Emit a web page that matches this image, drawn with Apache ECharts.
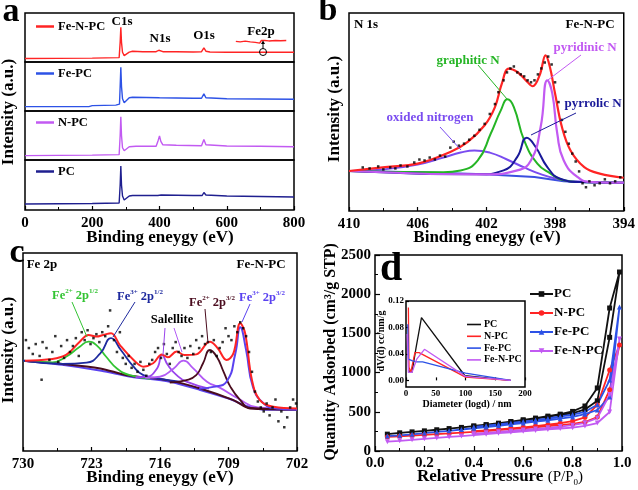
<!DOCTYPE html>
<html><head><meta charset="utf-8">
<script src="https://cdn.jsdelivr.net/npm/echarts@6/dist/echarts.min.js"></script>
<style>html,body{margin:0;padding:0;background:#fff}#c{width:638px;height:490px}</style>
</head><body><div id="c"></div>
<script>
// ---------- Panel a: XPS survey (x: eV, y: % of sub-panel height) ----------
const surveyFeNPC = [[0,7],[100,7.5],[200,8],[280,9],[283,40],[285,71],[287,40],[290,20],[295,13],[300,13],[310,20],[320,22],[350,21],[390,21],[398,24],[402,23],[410,21],[450,21],[500,20.5],[525,21],[532,29],[538,22],[550,20.5],[600,20],[700,20],[800,20]];
const surveyFe2pTrace = [[627,42],[640,41],[655,42.5],[670,41],[685,40],[698,38.5],[703,44],[708,47.8],[713,44],[725,43],[745,44],[760,43.5],[777,44]];
const surveyFePC = [[0,9],[190,9],[200,11],[270,12],[281,14],[283,50],[285,89],[287,50],[290,25],[295,17],[300,18],[310,27],[320,28],[400,27],[500,26],[525,26],[532,35],[538,27],[600,25],[700,24.5],[800,24]];
const surveyNPC = [[0,9],[200,10],[280,11],[283,50],[285,88],[287,50],[290,25],[295,19],[300,20],[310,27],[330,28],[390,28],[396,40],[400,49],[404,38],[410,31],[450,30],[525,29],[532,42],[538,31],[600,28.5],[700,28],[800,27]];
const surveyPC = [[0,12],[200,13],[280,14],[283,50],[285,88],[287,50],[290,28],[295,20],[300,21],[310,28],[320,29],[395,29],[400,32],[405,30],[500,29],[527,29],[532,35],[538,30],[600,28],[700,27],[800,26]];
const surveyNames = ['Fe-N-PC','Fe-PC','N-PC','PC'];

// ---------- Panel b: N 1s ----------
const n1sEnvelope = [[410,20.2],[407.9,22.2],[406,23.9],[404.1,29.8],[403.1,34.8],[402.1,43.3],[401.5,52.5],[401.1,64.3],[400.7,71.9],[400.2,70.2],[399.7,66],[399.3,63],[398.9,68.5],[398.55,78.6],[398.3,72.7],[398.0,59.3],[397.6,42.4],[397.1,30.6],[396.3,22.2],[395.4,18.9],[394,16.8]];
const n1sBackground = [[410,20.2],[406,19.6],[402.1,18.5],[399.2,17.2],[397.5,15],[396,14.4],[394,14.1]];
const n1sOxided = [[410,20.2],[408,21],[406,23.5],[404.5,27],[403.5,29.5],[402.7,30.6],[401.8,29.5],[400.8,26],[399.8,22],[398.8,18.5],[397.8,16],[397,15],[394,14.3]];
const n1sGraphitic = [[410,20.2],[404.5,19.6],[403.5,20.5],[402.5,25.6],[401.75,39],[401.16,50.8],[400.77,56.4],[400.4,52.5],[399.8,35.7],[399.03,23.9],[398.26,18.9],[397.5,15.5],[396.5,14.6],[394,14.3]];
const n1sPyrrolic = [[410,20.2],[402.5,18.5],[401,20.5],[400.2,27.3],[399.65,37],[399.13,32.3],[398.45,22.2],[397.7,16.3],[396.5,14.6],[394,14.3]];
const n1sPyridinic = [[410,20.2],[402,18.5],[400.2,20.5],[399.4,25.6],[398.84,42.4],[398.45,66],[398.16,59.3],[397.87,39],[397.5,25.6],[396.7,17.2],[395.9,14.6],[394,14.3]];
const n1sRaw = [[409.2,22],[408.8,21.5],[408.3,22.5],[408.0,21],[407.6,22],[407.3,21.5],[407.0,23],[406.6,22.5],[406.2,24.5],[405.9,26],[405.6,25.5],[405.3,27],[405.0,26],[404.7,28],[404.4,27.5],[404.1,32],[403.9,35],[403.6,33],[403.3,34],[403.0,36],[402.7,38],[402.4,41],[402.1,44],[401.8,49],[401.5,54],[401.3,60],[401.0,66],[400.8,70],[400.6,72],[400.4,73],[400.2,70],[400.0,69],[399.8,68],[399.6,66],[399.4,65],[399.2,66],[399.0,69],[398.8,72],[398.6,75],[398.4,78],[398.2,74],[398.0,65],[397.8,55],[397.6,46],[397.4,40],[397.2,34],[397.0,29],[396.8,25],[396.6,20],[396.4,14],[396.2,12],[396.0,15],[395.7,13],[395.4,14],[395.1,16],[394.8,14],[394.5,15],[394.2,17]];

// ---------- Panel c: Fe 2p ----------
const fe2pEnvelope = [[729.8,45.6],[727.3,46.3],[725.6,48.5],[724.2,55.2],[723.3,58.6],[722.5,57.8],[721.8,58.6],[721.0,59.5],[720.1,53.5],[718.7,46],[717.7,42.6],[716.7,44.3],[715.8,48.8],[715.2,47.3],[714.3,50.2],[713.5,48.5],[712.3,48.8],[710.9,55.2],[710.1,51.9],[709.2,46],[708.5,49.3],[707.8,64.5],[707.3,59.5],[706.6,35.8],[705.8,25.7],[704.4,22.3],[702,21.5]];
const fe2pBackground = [[730,45.6],[726,44],[722.1,41.7],[719.4,38.3],[715.3,35.8],[711.9,31.6],[708.5,25.7],[706.8,21.5],[702,21]];
const fe2pBackground2 = [[730,45.6],[726,43.5],[722,40.5],[719,37.5],[715,35],[712,31],[709,26.5],[707,22.5],[705,20.8],[702,20.8]];
const fe2pFe2p12 = [[730,45.6],[727,44.8],[725.6,47.6],[724.2,52.7],[723.3,55.2],[722.5,53.5],[721.5,47.6],[720.4,41.7],[719.1,38.3],[717,36.5]];
const fe2pFe3p12 = [[730,45.6],[726,44],[723.5,44.6],[722.1,49.3],[721,57],[720,51],[718.7,42.6],[717.7,38.3],[716.3,36.7],[714,35]];
const fe2pSat1 = [[718.5,37.3],[717.4,37.5],[716.3,41.7],[715.8,48.5],[715.2,43.4],[714.3,38.3],[713.3,35],[711,31.5]];
const fe2pSat2 = [[717.5,37],[716,37.5],[714.6,41.7],[713.6,45.6],[712.6,41.7],[711.2,35],[709.9,32],[708,26.5],[706,22],[702,21]];
const fe2pFe2p32 = [[715,34.5],[713.3,35.8],[712.3,38.3],[711.6,44.3],[710.9,51],[710.2,47.6],[709.5,40],[708.8,32.4],[707.8,25.7],[706.8,21.8],[702,21]];
const fe2pFe3p32 = [[712,31.5],[710.55,32.4],[709.2,35],[708.3,49.3],[707.8,62.5],[707.2,51],[706.5,32.4],[705.4,24],[704.1,21.5],[702,21]];
const fe2pRaw = [[729.7,56],[729.4,52],[729.0,49],[728.7,54],[728.3,48],[728.1,36],[728.0,55],[727.6,52],[727.3,46],[727.0,50],[726.7,58],[726.4,45],[726.1,53],[725.8,47],[725.5,56],[725.2,50],[724.9,53],[724.6,57],[724.3,48],[724.0,60],[723.7,56],[723.4,61],[723.1,54],[722.8,57],[722.5,59],[722.2,55],[721.9,60],[721.6,58],[721.3,63],[721.1,71],[720.7,56],[720.4,50],[720.1,60],[719.8,47],[719.5,44],[719.2,48],[718.9,42],[718.6,44],[718.3,40],[718.0,45],[717.7,41],[717.4,38],[717.1,44],[716.8,46],[716.5,50],[716.2,52],[715.9,47],[715.6,54],[715.3,49],[715.0,44],[714.7,52],[714.4,55],[714.1,50],[713.8,48],[713.5,52],[713.2,47],[712.9,53],[712.6,49],[712.3,56],[712.0,52],[711.7,58],[711.4,54],[711.1,55],[710.8,50],[710.5,56],[710.2,48],[709.9,52],[709.6,55],[709.3,62],[709.0,58],[708.7,56],[708.4,63],[708.1,60],[707.8,65],[707.5,62],[707.2,58],[706.9,50],[706.6,40],[706.3,30],[706.0,25],[705.7,22],[705.4,20],[705.1,24],[704.8,18],[704.5,22],[704.2,26],[703.9,15],[703.6,20],[703.3,12],[703.0,17],[702.7,22],[702.4,26],[702.1,24]];

// ---------- Panel d: N2 isotherms ----------
const adsP = [0.05,0.1,0.15,0.2,0.25,0.3,0.35,0.4,0.45,0.5,0.55,0.6,0.65,0.7,0.75,0.8,0.85,0.9,0.95,0.99];
const desP = [0.95,0.9,0.85,0.8,0.75,0.7,0.65,0.6,0.55,0.5,0.45,0.4];
const pcAds = [215,232,244,257,271,286,301,316,333,350,371,392,412,434,460,480,530,640,1450,2283];
const pcDes = [1824,804,574,505,470,445,420,398,376,355,336,320];
const npcAds = [180,188,197,206,215,224,234,244,255,266,278,290,303,316,330,345,370,434,780,1352];
const npcDes = [1033,587,430,380,355,335,318,302,289,276,264,252];
const fepcAds = [190,200,213,228,243,258,274,290,306,322,339,356,374,392,412,434,470,523,689,1837];
const fepcDes = [905,590,500,465,440,415,395,376,358,340,323,306];
const fenpcAds = [119,130,142,155,167,179,191,203,215,227,239,251,263,275,287,298,320,357,497,1428];
const fenpcDes = [720,420,360,330,312,296,282,268,256,244,232,220];
const isoNames = ['PC','N-PC','Fe-PC','Fe-N-PC'];

// inset: pore size distribution
const psdPC = [[4,0.015],[10,0.012],[17,0.05],[26,0.095],[99,0.007],[176,0]];
const psdNPC = [[4,0.11],[5,0.02],[8,0.012],[15,0.042],[22,0.042],[100,0.005],[176,0]];
const psdFePC = [[3,0.085],[4,0.032],[10,0.03],[18,0.028],[28,0.028],[100,0.011],[176,0]];
const psdFeNPC = [[2,0.07],[4,0.012],[10,0.012],[18,0.032],[31,0.047],[100,0.006],[176,0]];

// ---------- build chart ----------
const FF = '"Liberation Serif", "Times New Roman", serif';
const chart = echarts.init(document.getElementById('c'), null, {renderer:'canvas'});

const C = {red:'#ff2424', blue:'#2d52e6', violet:'#c25af2', navy:'#1f1f8f', black:'#111',
  green:'#25b525', pyr:'#1a1a99', oxi:'#7a4cf0', bg:'#3a4fe0',
  cgreen:'#33c433', cnavy:'#1e2a9e', brown:'#4a0c1e', sat1:'#9a44ec', sat2:'#b25af5', fe3:'#5a42f0'};

const grids = [
  {left:25, top:13, width:269, height:49},
  {left:25, top:62, width:269, height:49},
  {left:25, top:111, width:269, height:49},
  {left:25, top:160, width:269, height:50},
  {left:349, top:13, width:276, height:198},
  {left:23, top:253, width:274, height:198},
  {left:375, top:255, width:247, height:196},
  {left:406, top:301, width:119, height:86, backgroundColor:'#fff'}
].map(g => Object.assign({show:true, borderColor:'#000', borderWidth:1.5, backgroundColor:'transparent', containLabel:false}, g));

const lbl = (size, margin) => ({show:true, color:'#000', fontFamily:FF, fontWeight:'bold', fontSize:size, margin:margin});
const tick = (len) => ({show:true, inside:true, length:len, lineStyle:{color:'#000', width:1.2}});
const minor = (len) => ({show:true, splitNumber:2, length:len, lineStyle:{color:'#000', width:1}});
const hiddenAxis = (gi, min, max) => ({type:'value', gridIndex:gi, min, max, axisLine:{show:false}, axisTick:{show:false}, axisLabel:{show:false}, splitLine:{show:false}});

const xAxis = [
  hiddenAxis(0,0,800), hiddenAxis(1,0,800), hiddenAxis(2,0,800),
  {type:'value', gridIndex:3, min:0, max:800, interval:200, axisLine:{show:false}, axisTick:tick(4), minorTick:minor(3), axisLabel:lbl(15,6), splitLine:{show:false}},
  {type:'value', gridIndex:4, min:394, max:410, interval:4, inverse:true, axisLine:{show:false}, axisTick:tick(4), minorTick:minor(3), axisLabel:lbl(15,6), splitLine:{show:false}},
  {type:'value', gridIndex:5, min:702, max:730, interval:7, inverse:true, axisLine:{show:false}, axisTick:tick(4), minorTick:minor(3), axisLabel:lbl(15,6), splitLine:{show:false}},
  {type:'value', gridIndex:6, min:0, max:1, interval:0.2, axisLine:{show:false}, axisTick:tick(5), minorTick:minor(3), axisLabel:Object.assign(lbl(15,5),{formatter:v=>v.toFixed(1)}), splitLine:{show:false}},
  {type:'value', gridIndex:7, min:0, max:200, interval:50, axisLine:{show:false}, axisTick:tick(3), axisLabel:lbl(9,2), splitLine:{show:false}}
];
const yAxis = [
  hiddenAxis(0,0,100), hiddenAxis(1,0,100), hiddenAxis(2,0,100), hiddenAxis(3,0,100),
  hiddenAxis(4,0,100), hiddenAxis(5,0,100),
  {type:'value', gridIndex:6, min:0, max:2500, interval:500, axisLine:{show:false}, axisTick:tick(5), minorTick:minor(3), axisLabel:Object.assign(lbl(15,4),{formatter:v=>String(v)}), splitLine:{show:false}},
  {type:'value', gridIndex:7, min:-0.01, max:0.12, axisLine:{show:false},
    axisTick:Object.assign(tick(3),{customValues:[0,0.04,0.08,0.12]}),
    axisLabel:Object.assign(lbl(9,2),{customValues:[0,0.04,0.08,0.12], formatter:v=>v.toFixed(2)}), splitLine:{show:false}}
];

const series = [];
const line = (name, data, idx, color, width, extra) => series.push(Object.assign({
  name, type:'line', data, xAxisIndex:idx, yAxisIndex:idx, symbol:'none', showSymbol:false,
  lineStyle:{color, width:width||1.5}, itemStyle:{color}, silent:true, animation:false
}, extra||{}));

// panel a
const surveyData = [surveyFeNPC, surveyFePC, surveyNPC, surveyPC];
const surveyColors = [C.red, C.blue, C.violet, C.navy];
surveyData.forEach((d,i)=> line(surveyNames[i], d, i, surveyColors[i], 1.4));
line('Fe2p-trace', surveyFe2pTrace, 0, C.red, 1.4);

// panel b
line('b-bg', n1sBackground, 4, C.bg, 2);
line('b-oxided', n1sOxided, 4, C.oxi, 2, {smooth:0.5});
line('b-graphitic', n1sGraphitic, 4, C.green, 2, {smooth:0.5});
line('b-pyrrolic', n1sPyrrolic, 4, C.pyr, 2, {smooth:0.5});
line('b-pyridinic', n1sPyridinic, 4, C.violet, 2.2, {smooth:0.5});
line('b-env', n1sEnvelope, 4, C.red, 2.2, {smooth:0.4});
series.push({name:'b-raw', type:'scatter', xAxisIndex:4, yAxisIndex:4, data:n1sRaw, symbol:'rect', symbolSize:2.5, itemStyle:{color:'#000'}, silent:true, animation:false, z:5});

// panel c
line('c-bg2', fe2pBackground2, 5, C.fe3, 2, {smooth:0.3});
line('c-bg', fe2pBackground, 5, C.brown, 2, {smooth:0.3});
line('c-fe2-12', fe2pFe2p12, 5, C.cgreen, 1.8, {smooth:0.5});
line('c-fe3-12', fe2pFe3p12, 5, C.cnavy, 1.8, {smooth:0.5});
line('c-sat1', fe2pSat1, 5, C.sat1, 1.8, {smooth:0.5});
line('c-sat2', fe2pSat2, 5, C.sat2, 1.8, {smooth:0.5});
line('c-fe2-32', fe2pFe2p32, 5, C.brown, 1.8, {smooth:0.5});
line('c-fe3-32', fe2pFe3p32, 5, C.fe3, 2, {smooth:0.5});
line('c-env', fe2pEnvelope, 5, C.red, 2, {smooth:0.4});
series.push({name:'c-raw', type:'scatter', xAxisIndex:5, yAxisIndex:5, data:fe2pRaw, symbol:'rect', symbolSize:2.5, itemStyle:{color:'#000'}, silent:true, animation:false, z:5});

// panel d
const isoAds = [pcAds, npcAds, fepcAds, fenpcAds];
const isoDes = [pcDes, npcDes, fepcDes, fenpcDes];
const isoColors = ['#111', '#ff2424', '#2d52e6', '#c25af2'];
const isoSymbols = ['rect','circle','triangle','triangle'];
isoNames.forEach((n,i)=>{
  const data = adsP.map((p,k)=>[p, isoAds[i][k]]).concat(desP.map((p,k)=>[p, isoDes[i][k]]));
  series.push({name:'d:'+n, type:'line', xAxisIndex:6, yAxisIndex:6, data, symbol:isoSymbols[i], symbolSize:5,
    symbolRotate: i===3?180:0, showSymbol:true, lineStyle:{color:isoColors[i], width:1.8}, itemStyle:{color:isoColors[i]}, silent:true, animation:false});
});
const psd = [psdPC, psdNPC, psdFePC, psdFeNPC];
isoNames.forEach((n,i)=> line('i:'+n, psd[i], 7, isoColors[i], 1.3));

// legends
const legends = surveyNames.map((n,i)=>({
  data:[n], left:31, top:[15,62,111,160][i], orient:'vertical', icon:'rect', itemWidth:18, itemHeight:2.5, itemGap:0,
  selectedMode:false, textStyle:{fontFamily:FF, fontWeight:'bold', fontSize:12.5, color:'#000', padding:[0,0,0,-1]}
}));
legends.push({data:isoNames.map(n=>'d:'+n), formatter:n=>n.slice(2), left:524, top:282, orient:'vertical', itemWidth:23, itemHeight:7, itemGap:5,
  selectedMode:false, textStyle:{fontFamily:FF, fontWeight:'bold', fontSize:13, lineHeight:14, color:'#000', padding:[0,0,0,-4]}});
legends.push({data:isoNames.map(n=>'i:'+n), formatter:n=>n.slice(2), left:462, top:314, orient:'vertical', icon:'rect', itemWidth:14, itemHeight:1.6, itemGap:0.8,
  selectedMode:false, textStyle:{fontFamily:FF, fontWeight:'bold', fontSize:10, lineHeight:11, color:'#000', padding:[0,0,0,-2]}});

// graphic texts & lines
const T = (text, x, y, size, color, extra) => Object.assign({type:'text', x, y, z:100, silent:true,
  style:{text, font:`bold ${size}px ${FF}`, fill:color||'#000', align:'center', verticalAlign:'middle'}}, extra||{});
const TR = (text, x, y, size) => T(text, x, y, size, '#000', {rotation:Math.PI/2});
const L = (x1,y1,x2,y2,color,w) => ({type:'line', z:100, silent:true, shape:{x1,y1,x2,y2}, style:{stroke:color, lineWidth:w||1}});
const SUP = (base, sup, color, x, y, sp2, sup2) => ({type:'text', x, y, z:100, silent:true,
  style:{text:`{a|${base}}{s|${sup}}{a| ${sp2}}{s|${sup2}}`, align:'center', verticalAlign:'middle', fill:color,
    rich:{a:{fontFamily:FF, fontWeight:'bold', fontSize:12.5, fill:color, lineHeight:14, verticalAlign:'bottom'},
          s:{fontFamily:FF, fontWeight:'bold', fontSize:7, fill:color, lineHeight:14, verticalAlign:'top'}}}});

const graphic = [
  T('a', 11, 12, 34), T('b', 328, 11, 34), T('c', 17, 253, 34), T('d', 391, 270, 40),
  // axis names
  T('Binding eneygy (eV)', 160, 238, 17), T('Binding eneygy (eV)', 487, 238, 17), T('Binding eneygy (eV)', 160, 478, 17),
  TR('Intensity (a.u.)', 9, 112, 17), TR('Intensity (a.u.)', 335, 109, 17), TR('Intensity (a.u.)', 9, 350, 17),
  TR('Quantity Adsorbed (cm³/g STP)', 331, 352, 16),
  {type:'text', x:500, y:477, z:100, silent:true, style:{text:'{a|Relative Pressure }{b|(P/P}{c|0}{b|)}', align:'center', verticalAlign:'middle',
    rich:{a:{fontFamily:FF, fontWeight:'bold', fontSize:17, fill:'#000', lineHeight:20, verticalAlign:'middle'},
          b:{fontFamily:FF, fontSize:15, fill:'#000', lineHeight:20, verticalAlign:'middle'},
          c:{fontFamily:FF, fontSize:9, fill:'#000', lineHeight:20, verticalAlign:'bottom'}}}},
  T('Diameter (logd) / nm', 467, 404, 10), TR('dV(d) cc/nm/g', 381, 341, 10),
  // panel a annotations
  T('C1s', 122, 22, 13), T('N1s', 160, 39, 13), T('O1s', 204, 36, 13), T('Fe2p', 261, 32, 13),
  {type:'circle', z:100, silent:true, shape:{cx:263, cy:52, r:3.5}, style:{stroke:'#000', fill:'none', lineWidth:1}},
  L(263,48.5,263,42,'#000',1),
  {type:'polygon', z:100, silent:true, shape:{points:[[261,44],[265,44],[263,40.5]]}, style:{fill:'#000'}},
  // panel b annotations
  T('N 1s', 366, 25, 13), T('Fe-N-PC', 590, 25, 13),
  T('graphitic N', 468, 61, 13, C.green), L(478,65,507,99,C.green,1),
  T('pyridinic N', 585, 48, 13, C.violet), L(581,55,548,80,C.violet,1),
  T('pyrrolic N', 593, 104, 13, C.pyr), L(576,113,531,135,C.pyr,1),
  T('oxided nitrogen', 430, 118, 13, C.oxi), L(440,127,461,150,C.oxi,1),
  // panel c annotations
  T('Fe 2p', 42, 265, 13), T('Fe-N-PC', 261, 265, 13),
  SUP('Fe','2+', C.cgreen, 75, 295, '2p', '1/2'), L(72,302,87,337,C.cgreen,1),
  SUP('Fe','3+', C.cnavy, 140, 296, '2p', '1/2'), L(135,302,113,337,C.cnavy,1),
  T('Salellite', 172, 320, 12.5), L(165,328,163,355,C.sat1,1), L(174,328,182,352,C.sat2,1),
  SUP('Fe','2+', C.brown, 212, 302, '2p', '3/2'), L(205,309,208,343,C.brown,1),
  SUP('Fe','3+', C.fe3, 262, 297, '2p', '3/2'), L(250,304,242,322,C.fe3,1)
];

chart.setOption({animation:false, backgroundColor:'#fff', grid:grids, xAxis, yAxis, series, legend:legends, graphic});
</script></body></html>
